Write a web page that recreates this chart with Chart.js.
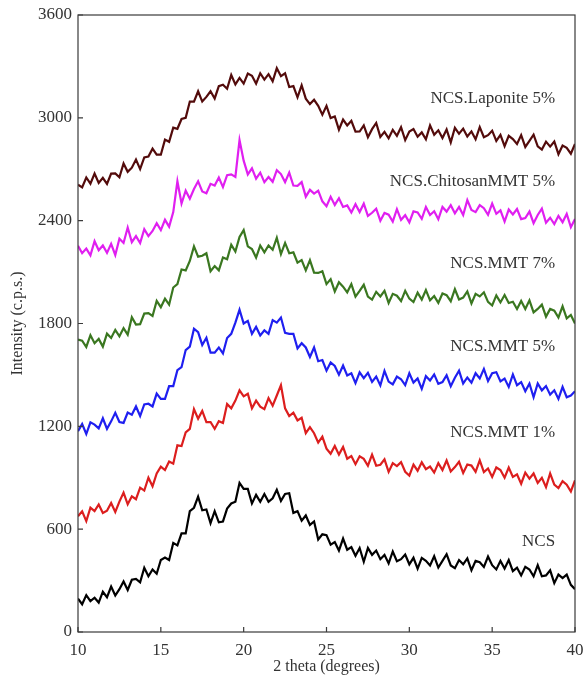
<!DOCTYPE html>
<html>
<head>
<meta charset="utf-8">
<script src="https://cdn.jsdelivr.net/npm/chart.js@4/dist/chart.umd.min.js"></script>
<style>
  body { margin: 0; background: #fff; }
  canvas { display: block; }
</style>
</head>
<body>
<canvas id="chart" width="584" height="685"></canvas>
<script>
// diffraction angle, 2 theta (degrees), 0.25 step
const twoTheta = [
  10, 10.25, 10.5, 10.75, 11, 11.25, 11.5, 11.75, 12, 12.25, 12.5, 12.75, 13, 13.25, 13.5, 13.75,
  14, 14.25, 14.5, 14.75, 15, 15.25, 15.5, 15.75, 16, 16.25, 16.5, 16.75, 17, 17.25, 17.5, 17.75,
  18, 18.25, 18.5, 18.75, 19, 19.25, 19.5, 19.75, 20, 20.25, 20.5, 20.75, 21, 21.25, 21.5, 21.75,
  22, 22.25, 22.5, 22.75, 23, 23.25, 23.5, 23.75, 24, 24.25, 24.5, 24.75, 25, 25.25, 25.5, 25.75,
  26, 26.25, 26.5, 26.75, 27, 27.25, 27.5, 27.75, 28, 28.25, 28.5, 28.75, 29, 29.25, 29.5, 29.75,
  30, 30.25, 30.5, 30.75, 31, 31.25, 31.5, 31.75, 32, 32.25, 32.5, 32.75, 33, 33.25, 33.5, 33.75,
  34, 34.25, 34.5, 34.75, 35, 35.25, 35.5, 35.75, 36, 36.25, 36.5, 36.75, 37, 37.25, 37.5, 37.75,
  38, 38.25, 38.5, 38.75, 39, 39.25, 39.5, 39.75, 40
];

// intensities (c.p.s.), as offset in the figure
const ncs = [
  195, 162, 215, 180, 200, 172, 235, 203, 265, 213, 250, 295, 245, 305, 310, 290, 375, 325, 365, 340,
  420, 435, 420, 520, 505, 575, 575, 705, 725, 790, 710, 715, 635, 705, 640, 645, 720, 750, 760, 870,
  835, 835, 750, 800, 760, 805, 760, 780, 830, 765, 805, 810, 695, 705, 650, 680, 625, 645, 540, 570,
  565, 510, 525, 475, 545, 480, 495, 445, 490, 410, 490, 450, 475, 425, 450, 400, 470, 413, 425, 452,
  395, 433, 370, 432, 415, 388, 442, 376, 415, 454, 388, 372, 420, 395, 430, 360, 415, 407, 380, 440,
  390, 365, 415, 370, 420, 355, 375, 330, 380, 365, 325, 390, 325, 330, 360, 285, 335, 315, 335, 275,
  250
];
const mmt1 = [
  675, 704, 647, 726, 705, 744, 694, 708, 753, 700, 761, 813, 745, 792, 775, 842, 825, 900, 850, 925,
  965, 945, 995, 982, 1089, 1085, 1165, 1185, 1300, 1245, 1290, 1225, 1225, 1185, 1230, 1220, 1330, 1305, 1350, 1410,
  1375, 1390, 1305, 1350, 1315, 1300, 1365, 1320, 1380, 1440, 1305, 1260, 1280, 1235, 1250, 1160, 1195, 1160, 1105, 1140,
  1070, 1040, 1085, 1035, 1080, 1011, 1027, 979, 1025, 1010, 970, 1035, 970, 976, 1007, 934, 985, 968, 991, 935,
  913, 977, 941, 990, 950, 965, 930, 985, 945, 1001, 937, 962, 993, 928, 977, 971, 935, 1002, 933, 954,
  905, 960, 945, 900, 960, 905, 920, 865, 930, 895, 925, 870, 900, 845, 925, 860, 840, 880, 860, 820,
  885
];
const mmt5 = [
  1171, 1213, 1155, 1223, 1210, 1188, 1247, 1185, 1229, 1279, 1225, 1220, 1280, 1268, 1316, 1260, 1328, 1332, 1316, 1391,
  1360, 1360, 1435, 1435, 1528, 1545, 1645, 1665, 1770, 1750, 1675, 1717, 1630, 1630, 1660, 1625, 1715, 1740, 1805, 1880,
  1800, 1815, 1740, 1780, 1730, 1760, 1740, 1820, 1805, 1835, 1745, 1740, 1740, 1655, 1685, 1660, 1605, 1660, 1580, 1587,
  1525, 1573, 1552, 1501, 1555, 1497, 1510, 1452, 1515, 1481, 1512, 1459, 1490, 1439, 1523, 1461, 1445, 1490, 1475, 1440,
  1510, 1455, 1479, 1419, 1493, 1468, 1503, 1448, 1458, 1498, 1434, 1484, 1525, 1450, 1485, 1455, 1510, 1480, 1535, 1465,
  1510, 1516, 1462, 1479, 1430, 1503, 1440, 1458, 1405, 1450, 1370, 1450, 1410, 1435, 1385, 1410, 1360, 1430, 1370, 1380,
  1405
];
const mmt7 = [
  1706, 1700, 1663, 1732, 1685, 1710, 1665, 1741, 1716, 1763, 1725, 1773, 1735, 1837, 1794, 1796, 1858, 1861, 1844, 1932,
  1895, 1945, 1910, 2010, 2030, 2115, 2110, 2165, 2250, 2190, 2195, 2210, 2105, 2135, 2110, 2185, 2175, 2260, 2220, 2305,
  2345, 2250, 2235, 2185, 2255, 2215, 2255, 2230, 2300, 2205, 2270, 2210, 2215, 2155, 2170, 2110, 2170, 2097, 2095, 2105,
  2030, 2059, 1987, 2041, 2015, 1982, 2030, 1957, 1990, 2026, 1957, 1939, 1985, 1958, 1991, 1920, 1973, 1962, 1931, 1991,
  1945, 1925, 1980, 1940, 1995, 1935, 1960, 1920, 1975, 1965, 1930, 2000, 1940, 1951, 1987, 1917, 1973, 1958, 1982, 1926,
  1905, 1964, 1923, 1966, 1920, 1927, 1885, 1932, 1885, 1935, 1865, 1885, 1910, 1840, 1885, 1875, 1835, 1900, 1830, 1850,
  1800
];
const chitosanMmt5 = [
  2254, 2210, 2237, 2198, 2280, 2227, 2255, 2212, 2265, 2200, 2295, 2270, 2360, 2275, 2310, 2270, 2350, 2310, 2340, 2385,
  2345, 2405, 2365, 2450, 2630, 2500, 2575, 2528, 2585, 2630, 2570, 2560, 2615, 2605, 2652, 2596, 2665, 2670, 2655, 2870,
  2750, 2670, 2705, 2645, 2680, 2625, 2655, 2627, 2695, 2672, 2625, 2680, 2605, 2603, 2625, 2540, 2580, 2558, 2575, 2513,
  2485, 2539, 2492, 2531, 2480, 2489, 2448, 2496, 2450, 2499, 2428, 2446, 2470, 2400, 2445, 2435, 2395, 2467, 2405, 2432,
  2390, 2454, 2448, 2411, 2480, 2433, 2455, 2408, 2480, 2453, 2490, 2443, 2480, 2433, 2520, 2463, 2450, 2491, 2473, 2434,
  2500, 2440, 2460, 2395, 2465, 2436, 2468, 2409, 2415, 2453, 2385, 2433, 2470, 2388, 2417, 2380, 2428, 2391, 2439, 2362,
  2410
];
const laponite5 = [
  2610, 2594, 2652, 2616, 2675, 2620, 2650, 2615, 2675, 2676, 2653, 2734, 2685, 2709, 2757, 2701, 2769, 2774, 2820, 2785,
  2785, 2873, 2860, 2943, 2936, 2993, 3000, 3095, 3095, 3155, 3095, 3122, 3155, 3113, 3185, 3193, 3170, 3250, 3195, 3233,
  3200, 3258, 3245, 3200, 3260, 3223, 3255, 3213, 3290, 3243, 3260, 3180, 3185, 3120, 3190, 3112, 3080, 3105, 3070, 3018,
  3070, 2999, 3008, 2931, 2990, 2956, 2983, 2919, 2920, 2956, 2887, 2934, 2970, 2889, 2918, 2881, 2930, 2895, 2945, 2870,
  2920, 2935, 2890, 2915, 2875, 2956, 2901, 2927, 2882, 2932, 2857, 2942, 2907, 2937, 2891, 2921, 2875, 2946, 2887, 2899,
  2925, 2865, 2900, 2835, 2895, 2876, 2848, 2899, 2830, 2866, 2902, 2834, 2815, 2861, 2832, 2862, 2788, 2839, 2825, 2791,
  2847
];

const sampleNames = ["NCS", "NCS.MMT 1%", "NCS.MMT 5%", "NCS.MMT 7%", "NCS.ChitosanMMT 5%", "NCS.Laponite 5%"];
const sampleColors = ["#000000", "#dc1e1e", "#1f1ff0", "#3a7720", "#e01ff0", "#530b0b"];
const sampleSeries = [ncs, mmt1, mmt5, mmt7, chitosanMmt5, laponite5];
// where each name sits (intensity of its text line, near right edge)
const nameLevels = [525, 1161, 1663, 2147, 2626, 3110];
const nameAt = 38.8;

const serif = "'Liberation Serif', 'DejaVu Serif', serif";

/* frame, inward ticks and sample names */
const framePlugin = {
  id: "frame",
  afterDraw(chart) {
    const { ctx, chartArea: a, scales } = chart;
    const { x, y } = scales;
    ctx.save();
    ctx.strokeStyle = "#3a3a3a";
    ctx.lineWidth = 1.2;
    ctx.strokeRect(a.left, a.top, a.right - a.left, a.bottom - a.top);
    ctx.beginPath();
    x.ticks.forEach((t) => {
      let px = x.getPixelForValue(t.value);
      ctx.moveTo(px, a.bottom);
      ctx.lineTo(px, a.bottom - 5);
    });
    y.ticks.forEach((t) => {
      let py = y.getPixelForValue(t.value);
      ctx.moveTo(a.left, py);
      ctx.lineTo(a.left + 5, py);
    });
    ctx.stroke();

    ctx.font = "17px " + serif;
    ctx.fillStyle = "#333";
    ctx.textAlign = "right";
    ctx.textBaseline = "middle";
    sampleNames.forEach((name, i) => {
      ctx.fillText(name, x.getPixelForValue(nameAt), y.getPixelForValue(nameLevels[i]));
    });
    ctx.restore();
  },
};

let config = {
  type: "line",
  data: {
    datasets: sampleSeries.map((series, i) => ({
      label: sampleNames[i],
      data: twoTheta.map((t, k) => ({ x: t, y: series[k] })),
      borderColor: sampleColors[i],
      borderWidth: 2.2,
      borderJoinStyle: "miter",
      pointRadius: 0,
      tension: 0,
      fill: false,
    })),
  },
  options: {
    responsive: false,
    animation: false,
    layout: { padding: { top: 15, right: 9, left: 0, bottom: 0 } },
    plugins: { legend: { display: false }, tooltip: { enabled: false } },
    scales: {
      x: {
        type: "linear",
        min: 10,
        max: 40,
        grid: { display: false, drawTicks: false },
        border: { display: false },
        ticks: {
          stepSize: 5,
          padding: 8,
          color: "#333",
          font: { family: serif, size: 17 },
          callback: (v) => String(v),
        },
        title: {
          display: true,
          text: "2 theta (degrees)",
          color: "#333",
          font: { family: serif, size: 16 },
          padding: { top: 9, bottom: 9 },
        },
        afterFit: (scale) => {
          scale.height = 53;
          scale.paddingLeft = 0;
          scale.paddingRight = 0;
        },
      },
      y: {
        min: 0,
        max: 3600,
        grid: { display: false, drawTicks: false },
        border: { display: false },
        ticks: {
          stepSize: 600,
          padding: 6,
          color: "#333",
          font: { family: serif, size: 17 },
          callback: (v) => String(v),
        },
        title: {
          display: true,
          text: "Intensity (c.p.s.)",
          color: "#333",
          font: { family: serif, size: 16 },
          padding: { top: 8, bottom: 8 },
        },
        afterFit: (scale) => {
          scale.width = 78;
          scale.paddingTop = 0;
          scale.paddingBottom = 0;
        },
      },
    },
  },
  plugins: [framePlugin],
};

new Chart(document.getElementById("chart"), config);
</script>
</body>
</html>
